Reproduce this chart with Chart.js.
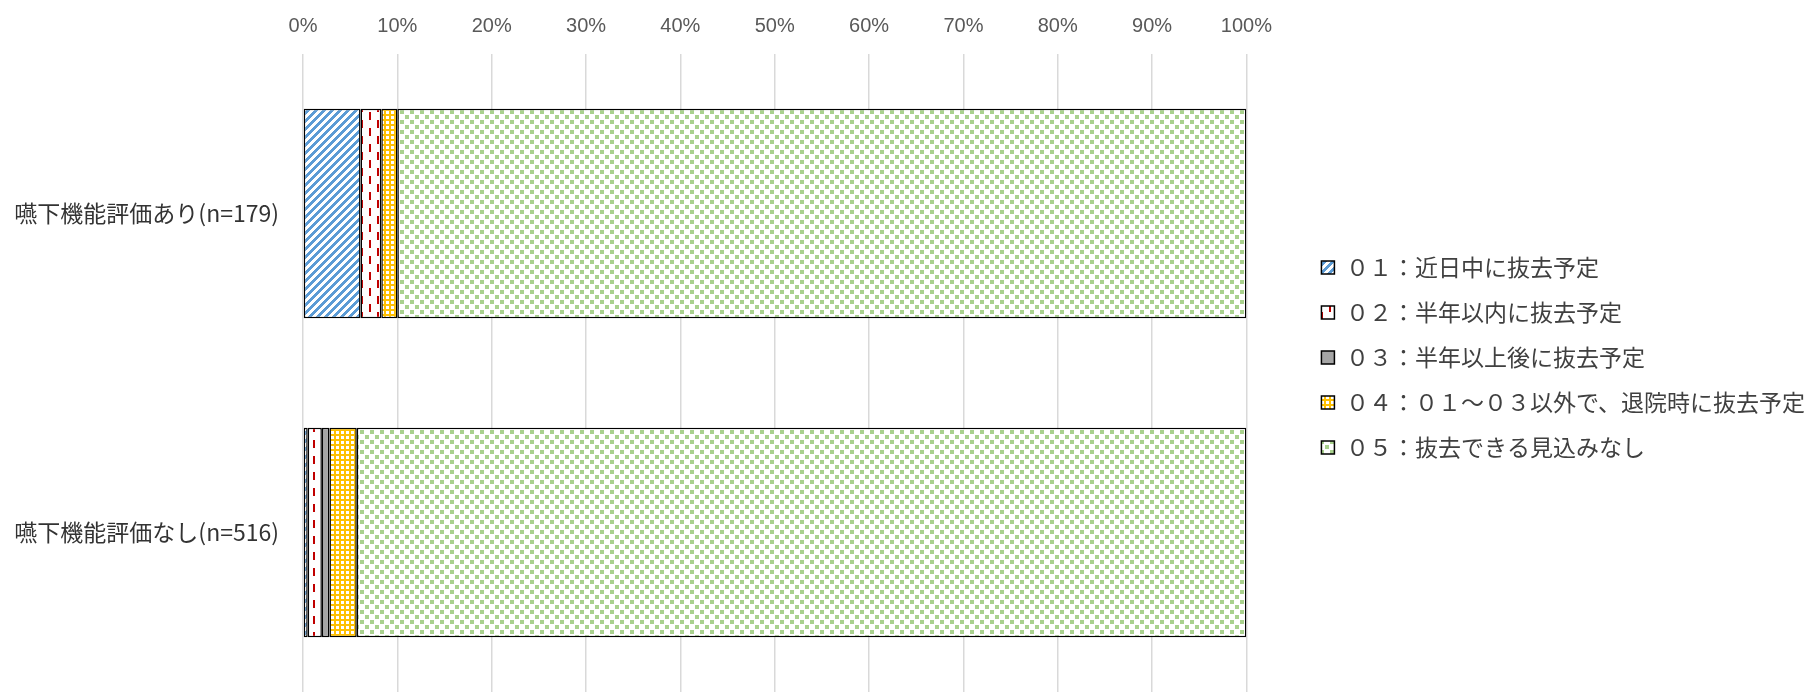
<!DOCTYPE html>
<html lang="ja">
<head>
<meta charset="utf-8">
<title>嚥下機能評価の有無別 抜去予定</title>
<script src="https://cdn.jsdelivr.net/npm/chart.js@4"></script>
<style>
  html, body { margin: 0; background: #fff; }
  #wrap { width: 1815px; height: 692px; position: relative; }
</style>
</head>
<body>
<div id="wrap"><canvas id="chart"></canvas></div>
<script>
// data (percent of each group)
const categories = ['嚥下機能評価あり(n=179)', '嚥下機能評価なし(n=516)'];
const seriesNames = [
    '０１：近日中に抜去予定',
    '０２：半年以内に抜去予定',
    '０３：半年以上後に抜去予定',
    '０４：０１～０３以外で、退院時に抜去予定',
    '０５：抜去できる見込みなし'
];
const plan01 = [6.1, 0.5];
const plan02 = [2.2, 1.5];
const plan03 = [0.0, 0.8];
const plan04 = [1.7, 2.9];
const plan05 = [90.0, 94.3];
const xTicks = [0, 10, 20, 30, 40, 50, 60, 70, 80, 90, 100];

// small tiles for the Excel-like pattern fills
function makePattern(w, h, bg, fg, draw) {
    const c = document.createElement('canvas');
    c.width = w;
    c.height = h;
    const g = c.getContext('2d');
    g.fillStyle = bg;
    g.fillRect(0, 0, w, h);
    g.fillStyle = fg;
    draw(g);
    return g.createPattern(c, 'repeat');
}

const ctx = document.getElementById('chart').getContext('2d');

const fills = [
    // wide upward diagonal, blue
    makePattern(8, 8, '#ffffff', '#5B9BD5', g => {
        for (let y = 0; y < 8; y++) {
            for (let x = 0; x < 8; x++) {
                if ((x + y) % 8 < 4) g.fillRect(x, y, 1, 1);
            }
        }
    }),
    // dashed vertical, dark red
    makePattern(16, 16, '#ffffff', '#C00000', g => {
        g.fillRect(1, 0, 2, 8);
        g.fillRect(9, 8, 2, 8);
    }),
    '#A5A5A5',
    // orange with small white squares
    makePattern(5, 5, '#FFC000', '#ffffff', g => {
        g.fillRect(1, 1, 3, 3);
    }),
    // green confetti on white
    makePattern(10, 10, '#ffffff', '#A9D18E', g => {
        g.fillRect(0, 0, 4, 4);
        g.fillRect(5, 5, 4, 4);
    })
];

const seriesValues = [plan01, plan02, plan03, plan04, plan05];

const datasets = seriesNames.map((name, i) => ({
    label: name,
    data: seriesValues[i],
    backgroundColor: fills[i],
    borderColor: '#000000',
    borderWidth: 1.5,
    borderSkipped: false,
    barPercentage: 0.82,
    categoryPercentage: 0.8
}));

const jpFont = "'Liberation Sans Narrow', 'Noto Sans CJK JP', sans-serif";

new Chart(ctx, {
    type: 'bar',
    data: {
        labels: categories,
        datasets: datasets
    },
    options: {
        indexAxis: 'y',
        responsive: true,
        maintainAspectRatio: false,
        animation: false,
        layout: {
            padding: { left: 0, right: 0, top: 0, bottom: -6 }
        },
        plugins: {
            tooltip: { enabled: false },
            legend: {
                position: 'right',
                align: 'center',
                maxWidth: 700,
                title: {
                    display: true,
                    text: '',
                    font: { size: 6 },
                    padding: 5
                },
                labels: {
                    boxWidth: 13,
                    boxHeight: 13,
                    padding: 22,
                    color: '#404040',
                    font: { family: "'Noto Sans CJK JP', sans-serif", size: 23 }
                }
            }
        },
        scales: {
            x: {
                position: 'top',
                stacked: true,
                min: 0,
                max: 100,
                afterBuildTicks: scale => {
                    scale.ticks = xTicks.map(v => ({ value: v }));
                },
                afterFit: scale => {
                    scale.height = 54;
                },
                grid: {
                    color: '#D9D9D9',
                    lineWidth: 1.5,
                    drawTicks: false
                },
                border: { display: false },
                ticks: {
                    padding: 16,
                    color: '#595959',
                    font: { family: "'Liberation Sans Narrow', 'Liberation Sans', sans-serif", size: 20 },
                    callback: v => v + '%'
                }
            },
            y: {
                stacked: true,
                afterFit: scale => {
                    scale.width = 303;
                    scale.paddingTop = 0;
                    scale.paddingBottom = 0;
                },
                grid: { display: false, drawTicks: false },
                border: { display: false },
                ticks: {
                    padding: 24,
                    color: '#333333',
                    font: { family: jpFont, size: 23 }
                }
            },
            // empty spacer between the bars and the legend
            y2: {
                type: 'linear',
                axis: 'y',
                position: 'right',
                grid: { display: false, drawTicks: false },
                border: { display: false },
                ticks: { display: false },
                afterFit: scale => {
                    scale.width = 53;
                    scale.paddingTop = 0;
                    scale.paddingBottom = 0;
                }
            }
        }
    }
});
</script>
</body>
</html>
